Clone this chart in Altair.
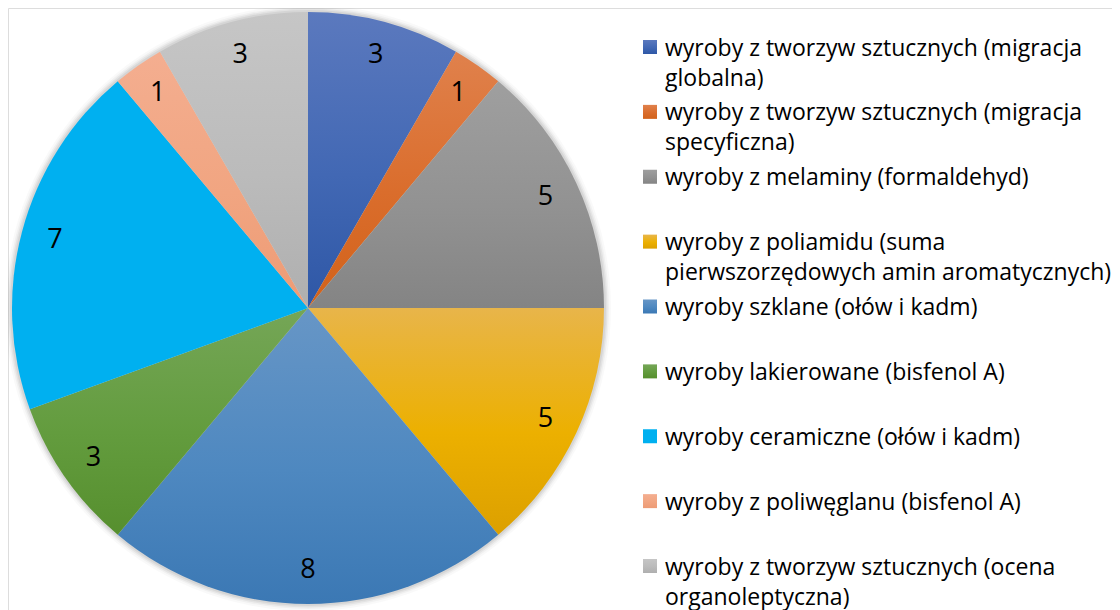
import math
import altair as alt
import pandas as pd

categories = [
    "wyroby z tworzyw sztucznych (migracja\nglobalna)",
    "wyroby z tworzyw sztucznych (migracja\nspecyficzna)",
    "wyroby z melaminy (formaldehyd)",
    "wyroby z poliamidu (suma\npierwszorzędowych amin aromatycznych)",
    "wyroby szklane (ołów i kadm)",
    "wyroby lakierowane (bisfenol A)",
    "wyroby ceramiczne (ołów i kadm)",
    "wyroby z poliwęglanu (bisfenol A)",
    "wyroby z tworzyw sztucznych (ocena\norganoleptyczna)",
]
values = [3, 1, 5, 5, 8, 3, 7, 1, 3]

top_colors = ["#5B79BE", "#E0814C", "#9F9F9F", "#E8B54A", "#6796C6", "#75A657", "#00B0F0", "#F4AE90", "#C6C6C6"]
mid_colors = ["#4268B4", "#DA6D2C", "#929292", "#ECB000", "#4E88C0", "#639C3E", "#00B0F0", "#F1A581", "#BBBBBB"]
bottom_colors = ["#2E57A6", "#D2621A", "#848484", "#DCA000", "#3B78B4", "#568F2E", "#00B0F0", "#ED9B75", "#AFAFAF"]

total = sum(values)
FONT = "Open Sans"

df = pd.DataFrame({"idx": list(range(len(values))), "cat": categories, "value": values})
df["line1"] = [c.split("\n")[0] for c in categories]
df["line2"] = [c.split("\n")[1] if "\n" in c else "" for c in categories]


def grad(i):
    return {
        "gradient": "linear",
        "x1": 0, "y1": 0, "x2": 0, "y2": 1,
        "stops": [
            {"offset": 0, "color": top_colors[i]},
            {"offset": 0.55, "color": mid_colors[i]},
            {"offset": 1, "color": bottom_colors[i]},
        ],
    }


theta_scale = alt.Scale(domain=[0, total], range=[0, 2 * math.pi])
y_scale = alt.Scale(domain=[0, len(values) - 1], range=[39, 558])

base = (
    alt.Chart(df)
    .transform_window(cum="sum(value)", sort=[alt.SortField("idx")], frame=[None, 0])
    .transform_calculate(start="datum.cum - datum.value", mid="datum.cum - datum.value / 2")
)

CX, CY, R = 300, 300, 296

layers = []

# soft shadow around the pie
shadow_df = pd.DataFrame({"a": [0], "b": [total]})
for r, o in [(303, 0.025), (301, 0.035), (299.5, 0.05), (298, 0.06)]:
    layers.append(
        alt.Chart(shadow_df)
        .mark_arc(radius=r, fill="black", opacity=o)
        .encode(
            theta=alt.Theta("a:Q", scale=theta_scale),
            theta2="b:Q",
            x=alt.value(CX),
            y=alt.value(CY),
        )
    )

for i in range(len(values)):
    layers.append(
        base.transform_filter(alt.datum.idx == i)
        .mark_arc(radius=R, fill=grad(i), opacity=1)
        .encode(
            theta=alt.Theta("start:Q", scale=theta_scale),
            theta2="cum:Q",
            x=alt.value(CX),
            y=alt.value(CY),
        )
    )

layers.append(
    base.mark_text(radius=262, fontSize=27, font=FONT, color="black", align="center", baseline="middle")
    .encode(
        theta=alt.Theta("mid:Q", scale=theta_scale),
        text="value:Q",
        x=alt.value(CX),
        y=alt.value(CY),
    )
)

# legend
for i in range(len(values)):
    layers.append(
        alt.Chart(df)
        .transform_filter(alt.datum.idx == i)
        .mark_square(size=196, fill=grad(i), opacity=1, filled=True)
        .encode(x=alt.value(642), y=alt.Y("idx:Q", scale=y_scale, axis=None))
    )

layers.append(
    alt.Chart(df)
    .mark_text(align="left", baseline="middle", fontSize=23, font=FONT, color="black", dy=1.5)
    .encode(x=alt.value(657), y=alt.Y("idx:Q", scale=y_scale, axis=None), text="line1:N")
)
layers.append(
    alt.Chart(df)
    .transform_filter(alt.datum.line2 != "")
    .mark_text(align="left", baseline="middle", fontSize=23, font=FONT, color="black", dy=31.5)
    .encode(x=alt.value(657), y=alt.Y("idx:Q", scale=y_scale, axis=None), text="line2:N")
)

chart = (
    alt.layer(*layers)
    .properties(width=1104, height=602, autosize=alt.AutoSizeParams(type="none"), padding=0)
    .configure_view(stroke=None)
    .configure(background="white")
)

chart.save("out.html", embed_options={"renderer": "svg", "actions": False})
